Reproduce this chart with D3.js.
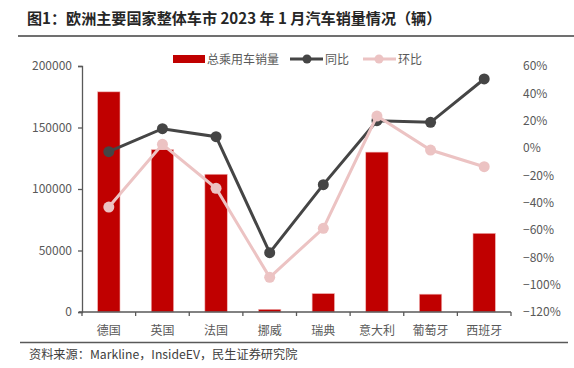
<!DOCTYPE html>
<html>
<head>
<meta charset="utf-8">
<script src="https://cdn.jsdelivr.net/npm/d3@7"></script>
<style>
  body { margin: 0; background: #fff; }
  svg { display: block; font-family: "Noto Sans CJK SC", "Noto Sans", sans-serif; }
</style>
</head>
<body>
<div id="chart"></div>
<script>
// data
var countries = ["德国", "英国", "法国", "挪威", "瑞典", "意大利", "葡萄牙", "西班牙"]
var sales = [179000, 132000, 112000, 2200, 15000, 130000, 14500, 64000]
var yoy = [-0.027, 0.141, 0.083, -0.766, -0.268, 0.20, 0.188, 0.505]
var mom = [-0.432, 0.027, -0.295, -0.946, -0.588, 0.234, -0.015, -0.137]
var leftTicks = [0, 50000, 100000, 150000, 200000]
var rightTicks = [-1.2, -1.0, -0.8, -0.6, -0.4, -0.2, 0, 0.2, 0.4, 0.6]

var width = 574,
    height = 368
var margin = {left: 82, right: 63, top: 66, bottom: 56}

var svg = d3.select("#chart")
  .append("svg")
    .attr("width", width)
    .attr("height", height)

// title + rule under it
svg.append("text")
  .attr("x", 27)
  .attr("y", 24)
  .attr("font-size", 15.1)
  .attr("font-weight", "bold")
  .attr("fill", "#262626")
  .text("图1：欧洲主要国家整体车市 2023 年 1 月汽车销量情况（辆）")
svg.append("line")
  .attr("x1", 18).attr("x2", 574)
  .attr("y1", 36).attr("y2", 36)
  .attr("stroke", "#404040").attr("stroke-width", 1.5)

var band = d3.scaleBand().domain(countries).range([margin.left, width - margin.right])

var y = d3.scaleLinear().domain([0, 200000]).range([height - margin.bottom, margin.top])
var y2 = d3.scaleLinear().domain([-1.2, 0.6]).range([height - margin.bottom, margin.top])

// bars
svg.selectAll("rect.bar")
  .data(sales)
  .enter()
  .append("rect")
    .attr("class", "bar")
    .attr("x", function(d, i) { return band(countries[i]) + band.bandwidth() / 2 - 11.2 })
    .attr("width", 22.4)
    .attr("y", function(d) { return y(d) })
    .attr("height", function(d) { return y(0) - y(d) })
    .attr("fill", "#c00000")
    .attr("stroke", "#f2b8b8")
    .attr("stroke-width", 0.6)

// left axis
var leftAxis = svg.append("g")
  .attr("transform", "translate(" + margin.left + ",0)")
  .call(d3.axisLeft(y).tickValues(leftTicks).tickSize(4).tickPadding(6).tickFormat(d3.format("d")))
leftAxis.select(".domain").attr("stroke", "#595959").attr("stroke-width", 1.3)
leftAxis.selectAll(".tick line").attr("stroke", "#595959").attr("stroke-width", 1.3)
leftAxis.selectAll(".tick text").attr("font-size", 12).attr("fill", "#595959")
  .attr("font-family", "'Noto Sans CJK SC', sans-serif")

// x axis
var xAxis = svg.append("g")
  .attr("transform", "translate(0," + y(0) + ")")
xAxis.append("line")
  .attr("x1", margin.left - 3).attr("x2", width - margin.right)
  .attr("stroke", "#595959").attr("stroke-width", 1.3)
xAxis.selectAll("line.tk")
  .data(countries.concat(["end"]))
  .enter()
  .append("line")
    .attr("class", "tk")
    .attr("x1", function(d, i) { return margin.left + i * band.bandwidth() })
    .attr("x2", function(d, i) { return margin.left + i * band.bandwidth() })
    .attr("y1", 0).attr("y2", 4)
    .attr("stroke", "#595959").attr("stroke-width", 1.3)
xAxis.selectAll("text")
  .data(countries)
  .enter()
  .append("text")
    .attr("x", function(d) { return band(d) + band.bandwidth() / 2 })
    .attr("y", 23)
    .attr("text-anchor", "middle")
    .attr("font-size", 12)
    .attr("fill", "#595959")
    .text(function(d) { return d })

// right axis, labels only
var rightAxis = svg.append("g")
  .attr("transform", "translate(" + (width - margin.right) + ",0)")
  .call(d3.axisRight(y2).tickValues(rightTicks).tickSize(0).tickPadding(12).tickFormat(d3.format(".0%")))
rightAxis.select(".domain").remove()
rightAxis.selectAll(".tick text").attr("font-size", 12).attr("fill", "#595959")
  .attr("font-family", "'Noto Sans CJK SC', sans-serif")

function cx(i) { return band(countries[i]) + band.bandwidth() / 2 }

function drawLine(values, color) {
  var line = d3.line()
    .x(function(d, i) { return cx(i) })
    .y(function(d) { return y2(d) })
  svg.append("path")
    .datum(values)
    .attr("d", line)
    .attr("fill", "none")
    .attr("stroke", color)
    .attr("stroke-width", 3)
  svg.append("g").selectAll("circle")
    .data(values)
    .enter()
    .append("circle")
      .attr("cx", function(d, i) { return cx(i) })
      .attr("cy", function(d) { return y2(d) })
      .attr("r", 5.5)
      .attr("fill", color)
}

drawLine(yoy, "#454545")
drawLine(mom, "#ecc3c3")

// legend
var lg = svg.append("g").attr("font-size", 12).attr("fill", "#595959")
lg.append("rect").attr("x", 173).attr("y", 55).attr("width", 32).attr("height", 8).attr("fill", "#c00000")
lg.append("text").attr("x", 207).attr("y", 63.5).attr("fill", "#595959").text("总乘用车销量")
lg.append("line").attr("x1", 290).attr("x2", 323).attr("y1", 59).attr("y2", 59).attr("stroke", "#454545").attr("stroke-width", 3)
lg.append("circle").attr("cx", 307).attr("cy", 59).attr("r", 4.5).attr("fill", "#454545")
lg.append("text").attr("x", 325).attr("y", 63.5).attr("fill", "#595959").text("同比")
lg.append("line").attr("x1", 363).attr("x2", 396).attr("y1", 59).attr("y2", 59).attr("stroke", "#ecc3c3").attr("stroke-width", 3)
lg.append("circle").attr("cx", 379).attr("cy", 59).attr("r", 4.5).attr("fill", "#ecc3c3")
lg.append("text").attr("x", 398).attr("y", 63.5).attr("fill", "#595959").text("环比")

// source
svg.append("line")
  .attr("x1", 20).attr("x2", 568)
  .attr("y1", 342.5).attr("y2", 342.5)
  .attr("stroke", "#595959").attr("stroke-width", 1.5)
svg.append("text")
  .attr("x", 29)
  .attr("y", 359)
  .attr("font-size", 12.2)
  .attr("fill", "#404040")
  .text("资料来源：Markline，InsideEV，民生证券研究院")
</script>
</body>
</html>
